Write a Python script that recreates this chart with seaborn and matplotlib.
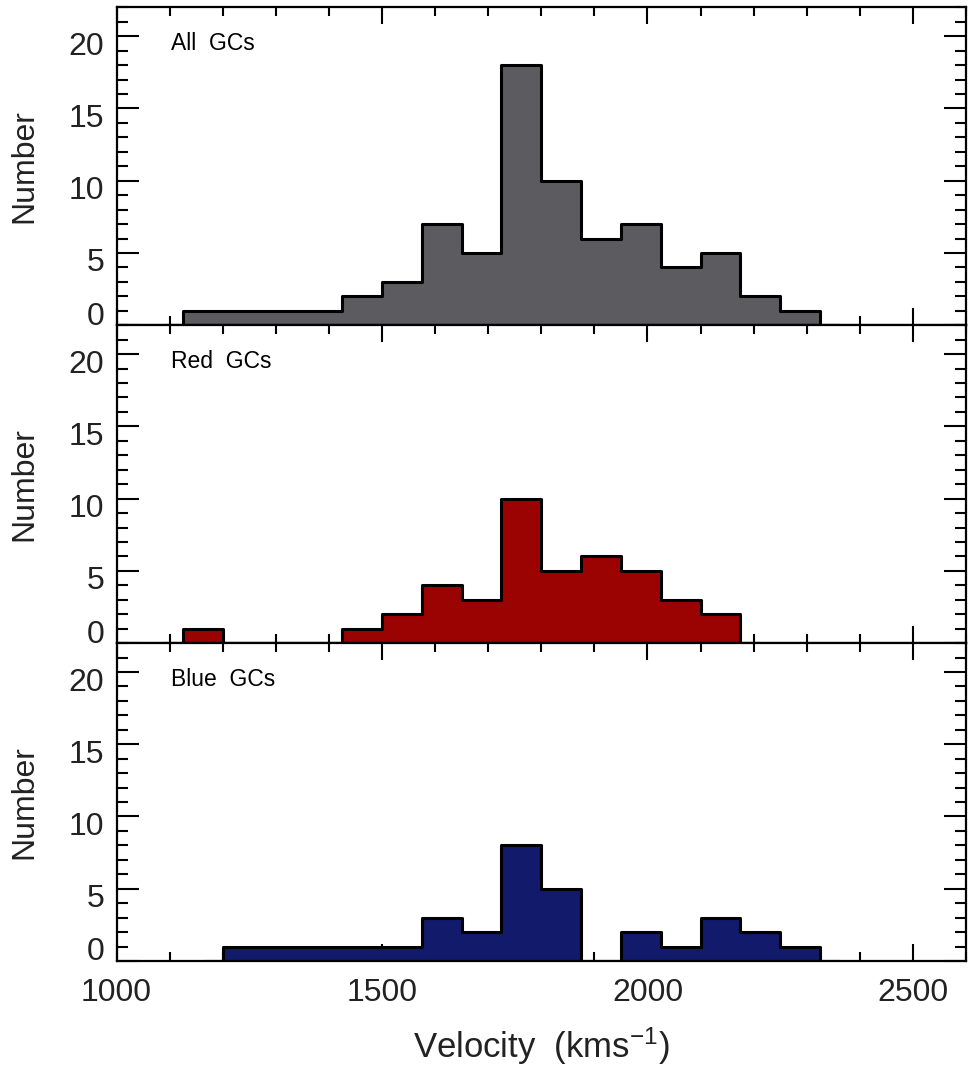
import numpy as np
import matplotlib
matplotlib.use('Agg')
import matplotlib.pyplot as plt
import matplotlib.transforms as mtransforms
from matplotlib.ticker import MultipleLocator, FixedLocator
import seaborn as sns

# velocity bins: 75 km/s wide, first edge at 1125 km/s
bin_lo = 1125
bin_w = 75

# counts per bin (1125-1200, 1200-1275, ... 2250-2325)
all_counts = [1, 1, 1, 1, 2, 3, 7, 5, 18, 10, 6, 7, 4, 5, 2, 1]
red_counts = [1, 0, 0, 0, 1, 2, 4, 3, 10, 5, 6, 5, 3, 2, 0, 0]
blue_counts = [0, 1, 1, 1, 1, 1, 3, 2, 8, 5, 0, 2, 1, 3, 2, 1]

panel_labels = ['All  GCs', 'Red  GCs', 'Blue  GCs']
panel_colors = ['#5b5b60', '#9b0303', '#111a6b']

sns.set_style('ticks')
plt.rcParams['font.family'] = ['Liberation Sans', 'DejaVu Sans']
plt.rcParams['mathtext.default'] = 'regular'

fig, axes = plt.subplots(3, 1, sharex=True, figsize=(9.68, 10.8), dpi=100)
fig.subplots_adjust(left=0.1204, right=0.998, top=0.9932, bottom=0.1102, hspace=0)

for ax, counts, lab, col in zip(axes, [all_counts, red_counts, blue_counts],
                                panel_labels, panel_colors):
    c = np.array(counts)
    nz = np.nonzero(c)[0]
    i0, i1 = nz[0], nz[-1]
    edges = bin_lo + bin_w * np.arange(i0, i1 + 2)
    # half-bin empty steps on both ends, like an IDL psym=10 plot
    bins = np.concatenate([[edges[0] - bin_w / 2], edges, [edges[-1] + bin_w / 2]])
    x = (bins[:-1] + bins[1:]) / 2
    w = np.concatenate([[0], c[i0:i1 + 1], [0]])

    # seaborn compares bins to "auto", so hand it a plain list
    sns.histplot(x=x, weights=w, bins=bins.tolist(), element='step', fill=True,
                 color=col, edgecolor='black', linewidth=2.2, alpha=1, ax=ax)

    ax.set_xlim(1000, 2600)
    ax.set_ylim(0, 22)
    ax.xaxis.set_major_locator(MultipleLocator(500))
    ax.xaxis.set_minor_locator(MultipleLocator(100))
    ax.yaxis.set_major_locator(FixedLocator([0, 5, 10, 15, 20]))
    ax.yaxis.set_minor_locator(MultipleLocator(1))

    ax.tick_params(axis='both', which='both', direction='in', top=True, right=True,
                   width=1.5, labelsize=23, color='black', labelcolor='#222222')
    ax.tick_params(axis='x', which='major', length=12.5, pad=12)
    ax.tick_params(axis='x', which='minor', length=6.3)
    ax.tick_params(axis='y', which='major', length=16, pad=9)
    ax.tick_params(axis='y', which='minor', length=7.7)
    for s in ax.spines.values():
        s.set_linewidth(1.6)
        s.set_color('black')

    ax.set_ylabel('Number', fontsize=23, labelpad=21, color='#222222')
    ax.set_xlabel('')
    ax.text(0.064, 0.886, lab, transform=ax.transAxes, fontsize=16.5,
            ha='left', va='center', color='black')

    # y labels sit a little below their ticks, the 0 is lifted above
    for t in ax.yaxis.get_major_ticks():
        v = t.get_loc()
        dy = 12 if v == 0 else -7
        off = mtransforms.ScaledTranslation(0, dy / 100, fig.dpi_scale_trans)
        t.label1.set_transform(t.label1.get_transform() + off)

axes[-1].set_xlabel('Velocity  (kms$^{-1}$)', fontsize=25, labelpad=13, color='#222222')

fig.savefig('out.png', dpi=100)
